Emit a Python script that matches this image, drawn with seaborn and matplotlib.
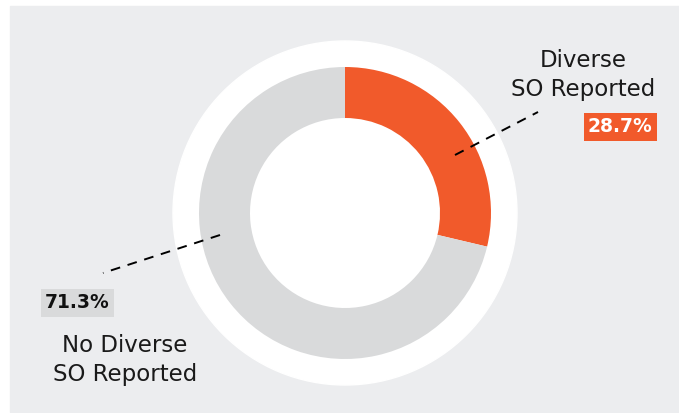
import matplotlib.pyplot as plt
import matplotlib.patches as mpatches
import seaborn as sns

# data
labels = ['Diverse\nSO Reported', 'No Diverse\nSO Reported']
shares = [28.7, 71.3]
pct_labels = ['28.7%', '71.3%']
colors = ['#f15a2b', '#d9dadb']

sns.set_theme(style='white')
plt.rcParams['font.family'] = ['DejaVu Sans']

W, H = 679, 413
fig = plt.figure(figsize=(W / 100, H / 100), dpi=100, facecolor='white')
ax = fig.add_axes([0, 0, 1, 1])

# gray panel behind everything
ax.add_patch(mpatches.Rectangle((10, 1), W - 10, H - 7, color='#ecedef', zorder=0))

cx, cy = 345, H - 213
ax.add_patch(mpatches.Circle((cx, cy), 172, color='white', zorder=1))

wedges, _ = ax.pie(shares, colors=colors, startangle=90, counterclock=False,
                   radius=146, center=(cx, cy), frame=True,
                   wedgeprops=dict(width=51, linewidth=0))
for w in wedges:
    w.set_zorder(2)
ax.set_xlim(0, W)
ax.set_ylim(0, H)
ax.set_aspect('equal')
ax.axis('off')

# leader lines
ax.plot([455, 538], [H - 155, H - 112], color='black', lw=1.4, ls=(0, (5, 4)), zorder=3)
ax.plot([220, 103], [H - 235, H - 273], color='black', lw=1.4, ls=(0, (5, 4)), zorder=3)

# labels
ax.text(583, H - 75, labels[0], ha='center', va='center', fontsize=16.5,
        color='#1a1a1a', linespacing=1.3, zorder=4)
ax.text(125, H - 360, labels[1], ha='center', va='center', fontsize=16.5,
        color='#1a1a1a', linespacing=1.3, zorder=4)

ax.text(620, H - 127, pct_labels[0], ha='center', va='center', fontsize=13.5,
        fontweight='bold', color='white', zorder=4,
        bbox=dict(boxstyle='square,pad=0.22', fc=colors[0], ec='none'))
ax.text(77, H - 303, pct_labels[1], ha='center', va='center', fontsize=13.5,
        fontweight='bold', color='#111111', zorder=4,
        bbox=dict(boxstyle='square,pad=0.22', fc=colors[1], ec='none'))

fig.savefig('out.png', dpi=100, facecolor='white')
